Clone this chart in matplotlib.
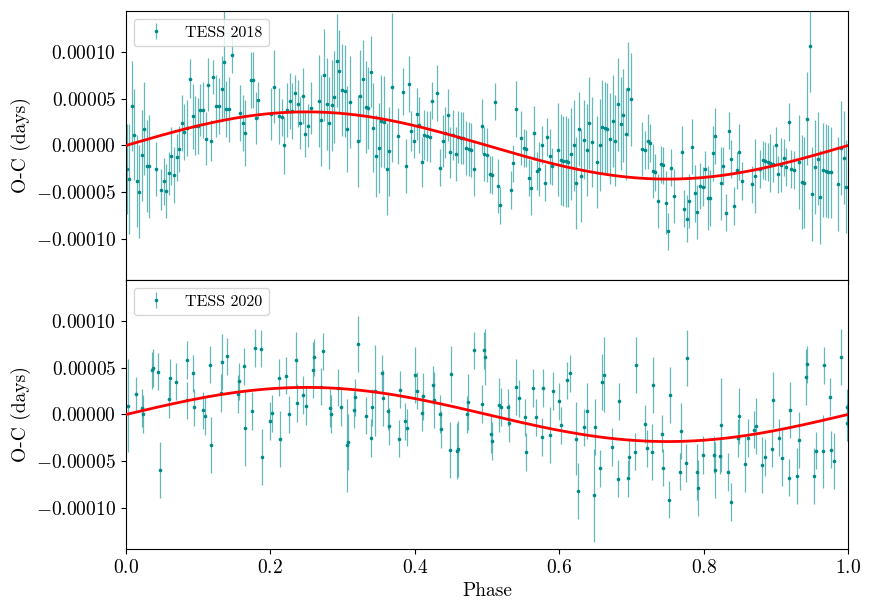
import numpy as np
import matplotlib
matplotlib.use("Agg")
import matplotlib.pyplot as plt
from matplotlib.ticker import FuncFormatter, FixedLocator

plt.rcParams['font.family'] = 'serif'
plt.rcParams['font.serif'] = ['cmr10', 'DejaVu Serif']
plt.rcParams['mathtext.fontset'] = 'cm'
plt.rcParams['axes.formatter.use_mathtext'] = True

UNIT = 1e-5  # values below are in units of 1e-5 days

# ---------------- TESS 2018 ----------------
phase_2018 = [
    0.001, 0.004, 0.008, 0.011, 0.015, 0.018, 0.022, 0.025, 0.029, 0.032, 0.042, 0.049, 0.053, 0.056, 0.060, 0.063,
    0.067, 0.070, 0.074, 0.078, 0.081, 0.085, 0.089, 0.093, 0.096, 0.100, 0.103, 0.107, 0.111, 0.114, 0.118, 0.121,
    0.125, 0.129, 0.133, 0.136, 0.139, 0.143, 0.147, 0.158, 0.162, 0.165, 0.173, 0.176, 0.180, 0.183,
    0.2013, 0.2050, 0.2124, 0.2160, 0.2193, 0.2230, 0.2266, 0.2303, 0.2340, 0.2377, 0.2414, 0.2446, 0.2483, 0.2520,
    0.2557, 0.2668, 0.2705, 0.2742, 0.2779, 0.2811, 0.2848, 0.2885, 0.2917, 0.2954, 0.2991, 0.3028, 0.3065, 0.3102,
    0.3208, 0.3245, 0.3282, 0.3319, 0.3356, 0.3388, 0.3425, 0.3462, 0.3499, 0.3536, 0.3573, 0.3610, 0.3647, 0.3679,
    0.3772, 0.3841, 0.3878, 0.3915, 0.3952, 0.3988,
    0.4026, 0.4058, 0.4095, 0.4132, 0.4169, 0.4206, 0.4243, 0.4312, 0.4349, 0.4386, 0.4418, 0.4455, 0.4492, 0.4529,
    0.4566, 0.4603, 0.4640, 0.4672, 0.4709, 0.4746, 0.4783, 0.4820, 0.4926, 0.4963, 0.5000, 0.5037, 0.5074, 0.5111,
    0.5148, 0.5185, 0.5328, 0.5365, 0.5397, 0.5471, 0.5508, 0.5545, 0.5577, 0.5614, 0.5651, 0.5688, 0.5725, 0.5762,
    0.5799, 0.5836, 0.5873, 0.5905, 0.5979,
    0.6020, 0.6057, 0.6089, 0.6126, 0.6163, 0.6200, 0.6237, 0.6269, 0.6306, 0.6343, 0.6380, 0.6417, 0.6449, 0.6523,
    0.6560, 0.6597, 0.6634, 0.6666, 0.6703, 0.6740, 0.6777, 0.6814, 0.6851, 0.6888, 0.6920, 0.6957, 0.6994, 0.7151,
    0.7188, 0.7225, 0.7262, 0.7299, 0.7331, 0.7368, 0.7405, 0.7442, 0.7479, 0.7511, 0.7548, 0.7585, 0.7696, 0.7733,
    0.7770, 0.7802, 0.7839, 0.7876, 0.7913, 0.7950, 0.7987,
    0.8020, 0.8056, 0.8093, 0.8126, 0.8163, 0.8237, 0.8273, 0.8310, 0.8347, 0.8384, 0.8421, 0.8458, 0.8490, 0.8527,
    0.8670, 0.8707, 0.8781, 0.8818, 0.8851, 0.8887, 0.8924, 0.8961, 0.8998, 0.9035, 0.9072, 0.9109, 0.9146, 0.9178,
    0.9215, 0.9252, 0.9326, 0.9358, 0.9395, 0.9432, 0.9469, 0.9506, 0.9543, 0.9580, 0.9617, 0.9654, 0.9691, 0.9728,
    0.9765, 0.9866, 0.9903, 0.9940, 0.9977,
]
oc_2018 = [
    -2.55, -3.58, 4.26, 1.17, -3.83, -4.93, -1.06, 1.81, -2.20, -2.23, -2.55, -4.72, -3.83, -4.89, -2.98, -1.13,
    -3.16, -1.28, -0.39, 2.45, 1.42, 1.88, 7.16, 3.12, 2.13, 2.06, 3.83, 3.76, 0.74, 6.52, 0.53, 7.34,
    4.26, 4.18, 6.06, 8.94, 3.94, 3.87, 9.72, 3.48, 2.41, 1.35, 7.06, 6.99, 2.94, 4.82,
    3.40, 6.28, 3.12, 3.01, 0.00, 3.83, 4.75, 3.69, 5.57, 4.47, 2.41, 5.28, 1.24, 2.13,
    4.01, 4.75, 2.70, 7.55, 4.47, 2.41, 4.29, 5.21, 9.08, 7.98, 5.92, 5.82, 1.81, 4.68,
    0.46, 5.28, 7.16, 4.11, 4.04, 7.87, 1.91, -1.13, -0.25, 2.62, 2.52, -2.52, -0.64, 6.21,
    1.03, 5.78, -2.20, 6.60, 1.56, 0.50,
    3.37, 2.23, -1.77, 1.10, 1.03, 0.96, 4.79, 5.64, -2.38, 0.50, 1.38, 3.26, -0.74, 1.10,
    -0.92, 0.89, 0.82, 0.82, -0.28, -0.35, -0.50, -2.52, 2.13, -0.92, -0.99, -3.09, -3.16, 4.68,
    -4.33, -6.42, -4.75, -1.91, 3.94, 0.82, -0.28, -0.35, -3.44, -4.50, 1.31, -2.73, -2.55, 0.07,
    -3.97, 0.89, -1.17, -2.23, -0.46,
    -1.52, -1.63, -1.70, -1.81, -0.92, 0.00, -4.04, 1.77, -3.23, 0.64, -0.46, 2.41, 0.35, -1.77,
    0.07, 1.99, 1.91, 1.81, 0.74, 2.62, 0.53, 4.40, 2.34, 3.23, 1.21, 6.03, 4.93, -0.39,
    -0.50, 0.43, 0.28, -2.77, -2.87, -5.92, -2.02, -2.13, -6.13, -9.18, -2.38, -5.43, -0.74, -6.77,
    -7.84, -5.96, -0.11, -5.14, -7.16, -4.33, -4.40,
    -2.55, -5.60, -5.67, -0.85, 1.06, -4.04, -2.20, -7.20, 1.60, -1.45, -6.49, -2.66, -0.74, -3.79,
    -4.15, -3.26, -2.52, -1.56, -1.67, -1.77, -1.88, -1.95, 0.00, -3.09, -2.09, -1.31, -2.30, 2.52,
    -2.52, -2.62, -1.77, -3.90, -3.97, 2.87, 10.67, -5.21, -2.30, -1.42, -5.50, -2.62, -2.70, -2.80,
    -2.87, -4.11, -0.25, -1.31, -4.40,
]
err_2018 = [
    4.8, 5.9, 4.8, 4.9, 4.9, 5.0, 4.9, 5.0, 4.9, 5.5, 2.9, 2.2, 2.5, 2.9, 2.3, 3.1,
    3.0, 2.5, 2.5, 3.0, 3.0, 3.0, 2.1, 3.5, 3.2, 3.0, 2.8, 3.0, 2.8, 2.8, 2.2, 1.8,
    3.3, 3.0, 3.5, 6.0, 3.0, 3.5, 2.0, 3.0, 3.0, 3.5, 3.0, 3.0, 2.8, 2.0,
    2.8, 3.9, 3.0, 2.0, 3.0, 2.9, 3.0, 3.0, 2.0, 2.5, 2.8, 3.0, 2.5, 2.3,
    2.8, 4.9, 4.9, 4.9, 4.9, 4.9, 4.9, 4.9, 5.0, 4.4, 4.9, 4.9, 4.6, 4.9,
    4.9, 4.9, 4.1, 4.9, 4.4, 3.8, 4.8, 4.4, 4.8, 4.9, 4.9, 4.9, 4.8, 8.0,
    3.0, 2.5, 2.9, 3.0, 2.1, 1.8,
    2.8, 3.0, 2.7, 2.7, 2.7, 2.7, 2.0, 3.0, 2.0, 2.8, 2.7, 2.8, 2.7, 2.7,
    2.9, 2.8, 2.8, 2.8, 2.9, 2.9, 2.9, 2.9, 2.9, 2.9, 2.9, 2.0, 2.0, 2.0,
    2.9, 2.0, 2.0, 2.0, 3.0, 2.9, 2.0, 2.0, 2.0, 2.9, 2.9, 2.0, 2.9, 2.0,
    2.0, 2.0, 2.9, 2.0, 5.0,
    4.9, 4.8, 4.9, 4.8, 4.9, 4.9, 4.9, 4.0, 5.0, 4.2, 4.9, 4.9, 4.8, 4.9,
    4.9, 5.0, 4.9, 4.9, 4.9, 4.9, 4.9, 5.0, 5.0, 5.0, 4.9, 5.0, 5.0, 2.9,
    2.0, 2.9, 2.0, 2.9, 2.0, 2.9, 2.0, 2.0, 3.4, 2.0, 2.0, 2.9, 2.8, 2.0,
    2.5, 2.9, 2.9, 3.0, 2.9, 2.5, 2.1,
    2.0, 3.4, 3.0, 2.9, 3.0, 3.9, 2.0, 2.0, 2.0, 2.0, 2.0, 2.0, 3.0, 2.0,
    2.0, 4.0, 2.0, 2.0, 2.0, 2.0, 3.1, 2.0, 2.0, 2.0, 2.9, 2.0, 2.0, 2.0,
    2.0, 2.0, 5.0, 5.0, 4.9, 5.0, 4.9, 5.0, 5.0, 5.0, 5.0, 5.0, 5.0, 5.0,
    4.9, 5.0, 5.0, 5.0, 5.0,
]

# ---------------- TESS 2020 ----------------
phase_2020 = [
    0.003, 0.014, 0.022, 0.023, 0.036, 0.038, 0.045, 0.047, 0.060, 0.061, 0.069, 0.084, 0.085, 0.093, 0.094, 0.107,
    0.109, 0.116, 0.118, 0.131, 0.133, 0.140, 0.155, 0.157, 0.164, 0.165, 0.175, 0.179, 0.187, 0.189, 0.199,
    0.2022, 0.2114, 0.2128, 0.2220, 0.2262, 0.2350, 0.2368, 0.2456, 0.2497, 0.2585, 0.2603, 0.2696, 0.2733, 0.2825,
    0.2839, 0.2936, 0.2973, 0.3065, 0.3079, 0.3153, 0.3171, 0.3208, 0.3319, 0.3393, 0.3411, 0.3448, 0.3541, 0.3554,
    0.3628, 0.3647, 0.3776, 0.3790, 0.3868, 0.3887, 0.4003,
    0.4031, 0.4104, 0.4118, 0.4252, 0.4271, 0.4344, 0.4358, 0.4488, 0.4506, 0.4580, 0.4598, 0.4728, 0.4742, 0.4820,
    0.4926, 0.4963, 0.4977, 0.5055, 0.5074, 0.5162, 0.5199, 0.5296, 0.5309, 0.5397, 0.5439, 0.5531, 0.5545, 0.5637,
    0.5674, 0.5767, 0.5780, 0.5873, 0.5910, 0.5997,
    0.6020, 0.6112, 0.6149, 0.6237, 0.6255, 0.6348, 0.6389, 0.6477, 0.6491, 0.6569, 0.6588, 0.6625, 0.6735, 0.6809,
    0.6823, 0.6952, 0.6971, 0.7045, 0.7059, 0.7193, 0.7211, 0.7285, 0.7299, 0.7428, 0.7442, 0.7520, 0.7539, 0.7668,
    0.7682, 0.7761, 0.7774, 0.7903, 0.7917, 0.7991,
    0.8140, 0.8153, 0.8232, 0.8246, 0.8343, 0.8375, 0.8472, 0.8486, 0.8578, 0.8615, 0.8703, 0.8721, 0.8814, 0.8851,
    0.8943, 0.8957, 0.9049, 0.9086, 0.9183, 0.9197, 0.9289, 0.9326, 0.9418, 0.9432, 0.9524, 0.9561, 0.9654, 0.9672,
    0.9746, 0.9765, 0.9802, 0.9908, 0.9986, 0.9991,
]
oc_2020 = [
    0.93, 2.14, 0.71, 0.04, 4.74, 4.99, 4.60, -5.99, 1.64, 3.92, 3.53, 1.53, 5.85, 4.42, 0.78, 0.46,
    -0.21, 5.34, -3.28, 2.31, 5.66, 6.23, 2.21, 3.56, 5.16, -1.50, 0.39, 7.12, 7.05, -4.56, -0.68,
    0.11, 3.95, -2.67, 4.17, 0.00, 5.87, 1.21, 2.10, 0.89, 4.77, 6.12, 2.99, 6.76, 0.71,
    0.04, 2.88, 0.75, -3.31, -2.99, 0.53, 1.85, 7.58, -0.11, -2.53, 0.78, 2.56, 4.41, 1.78,
    0.36, -1.28, -2.60, 2.67, -0.75, -1.42, 4.27,
    2.56, 0.18, 1.96, 3.17, 1.53, 0.07, -1.60, -3.84, 4.38, -3.95, -3.67, 0.00, 1.32, 6.87,
    1.14, 6.87, 6.19, -2.14, -2.85, 1.03, 0.82, 0.75, -0.93, 2.92, 1.74, -0.32, -4.02, 2.85,
    -0.32, -2.42, 2.85, -2.21, 2.53, 1.42,
    -1.17, 3.67, 4.41, -2.60, -8.22, -1.39, 0.39, -8.65, -1.39, -5.77, 3.45, 4.27, -3.49, -6.87,
    1.39, -6.83, -4.56, -3.99, 5.27, -1.00, -3.63, -4.06, 3.20, -2.07, -5.70, -9.12, 2.10, -6.13,
    -1.82, -5.20, 6.02, -6.20, -7.87, -4.35,
    -4.31, -5.99, -4.42, -1.14, -6.17, -9.37, -2.53, -0.21, -5.27, -2.53, -1.64, -1.28, -5.38, -4.60,
    -3.67, 1.60, -2.49, -4.67, -6.77, 0.50, -6.56, -2.78, 4.06, 5.38, -6.63, -3.89, -3.95, 5.27,
    1.89, -3.78, -4.99, 6.19, 0.78, -0.89,
]
err_2020 = [
    5.0, 1.9, 2.0, 2.0, 2.0, 2.0, 2.0, 3.0, 2.0, 2.0, 2.0, 2.0, 2.0, 2.0, 2.0, 2.0,
    2.0, 2.0, 3.0, 2.0, 3.0, 2.0, 2.0, 2.0, 2.0, 4.0, 2.0, 2.0, 2.0, 3.0, 2.0,
    2.0, 2.0, 3.0, 2.0, 2.0, 3.0, 2.0, 2.0, 2.0, 3.0, 2.0, 2.0, 2.0, 2.0,
    2.0, 2.0, 2.0, 5.0, 3.0, 2.0, 2.0, 3.0, 2.0, 2.0, 2.0, 4.9, 2.0, 3.0,
    2.0, 2.0, 2.0, 2.0, 2.0, 2.0, 3.0,
    2.0, 2.0, 2.5, 2.0, 3.0, 2.0, 2.0, 3.0, 3.0, 3.0, 3.0, 2.0, 3.0, 2.0,
    2.0, 2.0, 3.0, 2.0, 2.0, 2.9, 2.0, 2.0, 2.0, 3.0, 2.0, 2.0, 2.0, 2.0,
    2.0, 2.0, 2.0, 3.0, 2.0, 2.0,
    2.0, 2.0, 2.0, 3.9, 3.0, 2.0, 3.0, 5.0, 3.0, 2.0, 3.0, 4.0, 2.0, 2.0,
    2.0, 2.0, 2.0, 2.0, 3.0, 2.0, 2.0, 3.0, 3.0, 2.0, 2.0, 2.0, 3.0, 2.0,
    3.0, 2.0, 3.0, 3.0, 3.0, 2.0,
    2.0, 3.0, 2.0, 5.0, 2.0, 2.0, 2.0, 3.0, 3.0, 2.0, 2.0, 3.0, 3.0, 2.0,
    2.0, 3.0, 2.0, 3.0, 2.0, 3.0, 3.0, 3.0, 3.0, 2.0, 3.0, 2.0, 3.9, 2.0,
    2.0, 2.0, 3.0, 3.0, 2.0, 2.0,
]

# Sinusoidal model fits (semi-amplitude, in 1e-5 days)
labels = ["TESS 2018", "TESS 2020"]
model_amplitude = [3.6, 2.9]

y_ticks = [-0.0001, -0.00005, 0.0, 0.00005, 0.0001]
x_ticks = [0.0, 0.2, 0.4, 0.6, 0.8, 1.0]

TEAL = '#008b8b'
fig = plt.figure(figsize=(8.72, 6.14), dpi=100)
ax1 = fig.add_axes([0.1445, 0.5440, 0.8280, 0.4381])
ax2 = fig.add_axes([0.1445, 0.1059, 0.8280, 0.4381], sharex=ax1)

datasets = [(phase_2018, oc_2018, err_2018), (phase_2020, oc_2020, err_2020)]
phase_grid = np.linspace(0, 1, 400)

for ax, (ph, oc, er), lab, amp in zip([ax1, ax2], datasets, labels, model_amplitude):
    ph = np.asarray(ph)
    oc = np.asarray(oc) * UNIT
    er = np.asarray(er) * UNIT
    ax.errorbar(ph, oc, yerr=er, fmt='o', ms=1.6, color=TEAL, mec=TEAL,
                ecolor=(0.0, 0.545, 0.545, 0.6), elinewidth=0.9, capsize=0,
                label=lab, zorder=2)
    ax.plot(phase_grid, amp * UNIT * np.sin(2 * np.pi * phase_grid), color='red', lw=2.0, zorder=3)
    ax.set_ylim(-0.000144, 0.000144)
    ax.set_xlim(0, 1)
    ax.yaxis.set_major_locator(FixedLocator(y_ticks))
    ax.yaxis.set_major_formatter(FuncFormatter(lambda v, p: r'$%.5f$' % v))
    ax.set_ylabel('O-C (days)', fontsize=14)
    ax.tick_params(labelsize=14)
    ax.legend(loc='upper left', fontsize=11.5)

ax1.tick_params(labelbottom=False)
ax2.xaxis.set_major_locator(FixedLocator(x_ticks))
ax2.xaxis.set_major_formatter(FuncFormatter(lambda v, p: r'$%.1f$' % v))
ax2.set_xlabel('Phase', fontsize=14)

fig.savefig('out.png', dpi=100)
